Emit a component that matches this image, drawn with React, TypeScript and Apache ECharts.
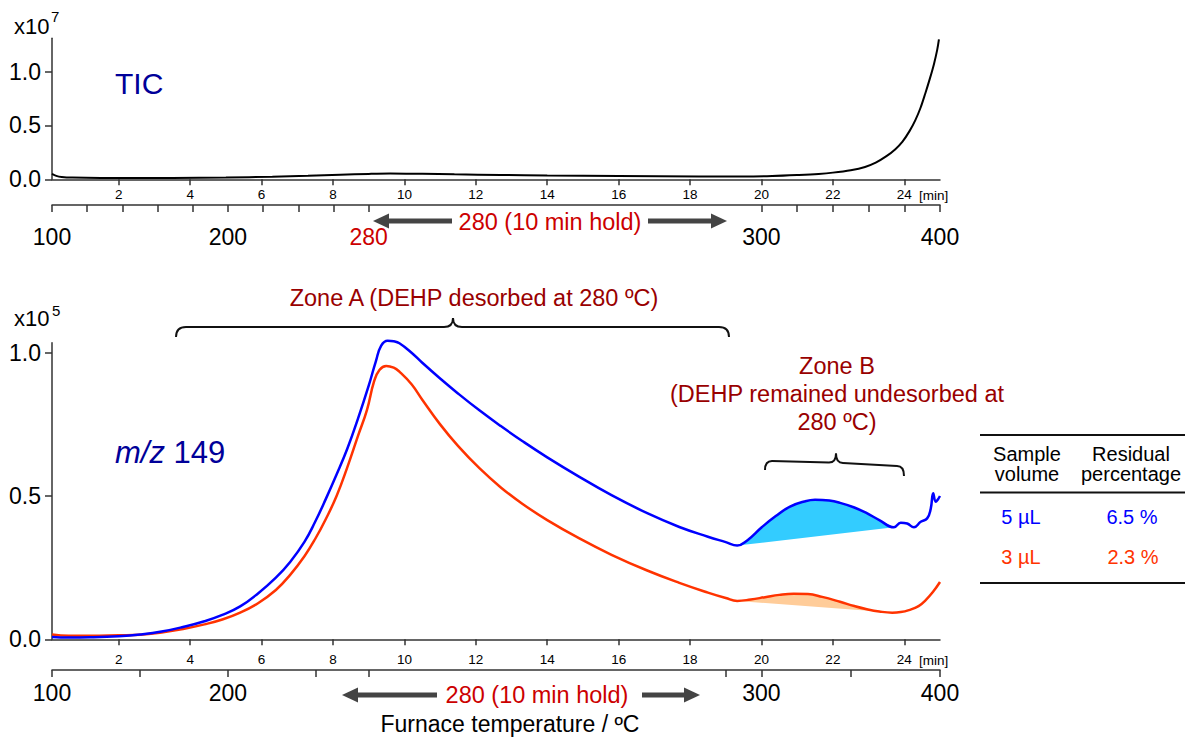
import React, { useEffect, useRef } from "react";
import * as echarts from "echarts";

const FONT = "'Liberation Sans', Arial, Helvetica, sans-serif";

// ---- time axis (minutes) ----
const T_MIN = 0.13;
const T_MAX = 25;
const minuteTicks = [2, 4, 6, 8, 10, 12, 14, 16, 18, 20, 22, 24];

// ---- furnace program: 100 -> 280 (ramp), hold 10 min, 280 -> 400 at 20 C/min ----
const RAMP1_START = 0.13;
const RAMP1_END = 9.0;
const HOLD_END = 19.0;
const heatMin = (T: number) => RAMP1_START + ((T - 100) / 180) * (RAMP1_END - RAMP1_START);
const ramp2Min = (T: number) => HOLD_END + (T - 280) / 20;

const topTempTicksRamp1 = [100, 120, 140, 160, 180, 200, 220, 240, 260, 280];
const topTempTicksRamp2 = [280, 300, 320, 340, 360, 380, 400];
const botTempTicksRamp1 = [100, 150, 200, 250, 280];
const botTempTicksRamp2 = [280, 300, 350, 400];
const topTempLabelsRamp1 = ["100", "200", "280"];
const topTempLabelsRamp2 = ["300", "400"];
const botTempLabelsRamp1 = ["100", "200"];
const botTempLabelsRamp2 = ["300", "400"];

// ---- TIC (x10^7) ----
const ticT = [0.13, 0.25, 0.4, 0.7, 1.5, 3.5, 5.0, 6.3, 7.3, 8.2, 9.0, 9.6, 10.5, 11.4, 12.7, 14.0, 16.0, 18.25, 19.5, 20.3, 21.05, 21.6, 22.0, 22.5, 22.9, 23.2, 23.5, 23.75, 23.95, 24.15, 24.31, 24.45, 24.59, 24.72, 24.83, 24.92, 24.97];
const ticV = [0.05, 0.032, 0.022, 0.016, 0.013, 0.013, 0.017, 0.024, 0.032, 0.043, 0.05, 0.053, 0.051, 0.046, 0.04, 0.035, 0.03, 0.026, 0.026, 0.03, 0.04, 0.05, 0.062, 0.085, 0.115, 0.155, 0.215, 0.28, 0.35, 0.45, 0.55, 0.66, 0.8, 0.94, 1.07, 1.2, 1.3];

// ---- m/z 149 (x10^5), 5 uL ----
const blueT = [0.13, 0.6, 1.2, 2.0, 2.6, 3.2, 3.8, 4.4, 4.9, 5.4, 5.9, 6.4, 6.8, 7.2, 7.5, 7.8, 8.1, 8.4, 8.7, 9.0, 9.2, 9.35, 9.53, 9.7, 9.86, 10.2, 10.5, 11.0, 11.5, 12.1, 12.7, 13.3, 14.0, 14.9, 15.8, 16.8, 17.7, 18.5, 19.0, 19.32, 19.6, 20.0, 20.4, 20.8, 21.2, 21.5, 21.9, 22.2, 22.6, 22.95, 23.3, 23.71, 23.9, 24.08, 24.27, 24.46, 24.64, 24.74, 24.81, 24.88, 24.95, 25.0];
const blueV = [0.008, 0.006, 0.007, 0.011, 0.017, 0.027, 0.043, 0.063, 0.085, 0.115, 0.16, 0.215, 0.27, 0.34, 0.41, 0.49, 0.575, 0.665, 0.77, 0.885, 0.97, 1.025, 1.042, 1.04, 1.033, 1.0, 0.965, 0.91, 0.858, 0.799, 0.744, 0.692, 0.635, 0.567, 0.503, 0.44, 0.392, 0.358, 0.339, 0.327, 0.345, 0.39, 0.43, 0.463, 0.481, 0.487, 0.484, 0.476, 0.46, 0.44, 0.416, 0.391, 0.407, 0.404, 0.391, 0.41, 0.422, 0.455, 0.51, 0.48, 0.49, 0.5];

// ---- m/z 149 (x10^5), 3 uL ----
const orangeT = [0.13, 0.6, 1.2, 2.0, 2.6, 3.2, 3.8, 4.4, 4.9, 5.4, 5.9, 6.4, 6.8, 7.2, 7.5, 7.8, 8.1, 8.4, 8.7, 8.95, 9.15, 9.3, 9.49, 9.7, 9.86, 10.2, 10.5, 11.0, 11.5, 12.1, 12.7, 13.3, 14.0, 14.9, 15.8, 16.8, 17.7, 18.5, 19.0, 19.32, 19.7, 20.1, 20.5, 20.9, 21.3, 21.7, 22.2, 22.6, 22.95, 23.3, 23.66, 23.9, 24.13, 24.4, 24.6, 24.8, 25.0];
const orangeV = [0.017, 0.012, 0.012, 0.014, 0.016, 0.024, 0.036, 0.052, 0.069, 0.093, 0.126, 0.172, 0.225, 0.29, 0.35, 0.42, 0.5, 0.6, 0.71, 0.8, 0.9, 0.94, 0.954, 0.948, 0.934, 0.89, 0.836, 0.75, 0.675, 0.597, 0.53, 0.473, 0.416, 0.352, 0.295, 0.24, 0.197, 0.163, 0.144, 0.134, 0.139, 0.147, 0.155, 0.159, 0.158, 0.148, 0.131, 0.116, 0.105, 0.097, 0.093, 0.095, 0.102, 0.116, 0.137, 0.165, 0.2];

// ---- Zone B residual areas (start / end minutes) ----
const blueFillRange = [19.32, 23.71];
const orangeFillRange = [19.32, 23.55];

// ---- table ----
const tableHeader = [["Sample", "volume"], ["Residual", "percentage"]];
const tableVolumes = ["5 µL", "3 µL"];
const tablePercents = ["6.5 %", "2.3 %"];

const BLUE = "#0000ff";
const ORANGE = "#ff3300";
const DARKRED = "#990000";
const RED = "#cc0000";
const NAVY = "#000099";

const zip = (t: number[], v: number[]) => t.map((x, i) => [x, v[i]]);

function interp(t: number[], v: number[], x: number) {
  for (let i = 0; i < t.length - 1; i++) {
    if (x >= t[i] && x <= t[i + 1]) {
      const f = (x - t[i]) / (t[i + 1] - t[i]);
      return v[i] + f * (v[i + 1] - v[i]);
    }
  }
  return v[v.length - 1];
}

function fillPolygon(t: number[], v: number[], a: number, b: number) {
  const pts: number[][] = [[a, interp(t, v, a)]];
  t.forEach((x, i) => {
    if (x > a && x < b) pts.push([x, v[i]]);
  });
  pts.push([b, interp(t, v, b)]);
  return pts;
}

function arrow(tailX: number, tipX: number, y: number) {
  const dir = Math.sign(tipX - tailX);
  const baseX = tipX - dir * 16;
  return [
    { type: "rect", shape: { x: Math.min(tailX, baseX), y: y - 2.5, width: Math.abs(baseX - tailX), height: 5 }, style: { fill: "#444" } },
    { type: "polygon", shape: { points: [[tipX, y], [baseX, y - 7.5], [baseX, y + 7.5]] }, style: { fill: "#444" } },
  ];
}

function brace(pts: { l: number[]; lc: number[]; ml: number[]; tip: number[]; mr: number[]; rc: number[]; r: number[] }) {
  const st = { stroke: "#111", lineWidth: 2, fill: null as any };
  const { l, lc, ml, tip, mr, rc, r } = pts;
  return [
    { type: "bezierCurve", shape: { x1: l[0], y1: l[1], cpx1: l[0], cpy1: lc[1], x2: lc[0], y2: lc[1] }, style: st },
    { type: "line", shape: { x1: lc[0], y1: lc[1], x2: ml[0], y2: ml[1] }, style: st },
    { type: "bezierCurve", shape: { x1: ml[0], y1: ml[1], cpx1: tip[0], cpy1: ml[1], x2: tip[0], y2: tip[1] }, style: st },
    { type: "bezierCurve", shape: { x1: tip[0], y1: tip[1], cpx1: tip[0], cpy1: mr[1], x2: mr[0], y2: mr[1] }, style: st },
    { type: "line", shape: { x1: mr[0], y1: mr[1], x2: rc[0], y2: rc[1] }, style: st },
    { type: "bezierCurve", shape: { x1: rc[0], y1: rc[1], cpx1: r[0], cpy1: rc[1], x2: r[0], y2: r[1] }, style: st },
  ];
}

function txt(text: string, x: number, y: number, fontSize: number, fill: string, align = "center", extra: any = {}) {
  return { type: "text", x, y, style: { text, fontSize, fill, fontFamily: FONT, align, verticalAlign: "middle", ...extra } };
}

function tempAxis(gridIndex: number, offset: number, margin: number, tickPos: number[], labelPos: number[], labelText: string[], redIdx: number) {
  return {
    type: "value",
    gridIndex,
    min: T_MIN,
    max: T_MAX,
    position: "bottom",
    offset,
    axisLine: { show: true, onZero: false, lineStyle: { color: "#333", width: 1.5 } },
    axisTick: { show: true, customValues: tickPos, length: 7, lineStyle: { color: "#333", width: 1.5 } },
    splitLine: { show: false },
    axisLabel: {
      show: true,
      customValues: labelPos,
      margin,
      fontSize: 23,
      color: "#000",
      fontFamily: FONT,
      formatter: (val: number) => {
        let best = 0;
        labelPos.forEach((p, i) => {
          if (Math.abs(p - val) < Math.abs(labelPos[best] - val)) best = i;
        });
        return best === redIdx ? `{r|${labelText[best]}}` : labelText[best];
      },
      rich: { r: { color: RED, fontSize: 23, fontFamily: FONT } },
    },
  };
}

function timeAxis(gridIndex: number, margin: number) {
  return {
    type: "value",
    gridIndex,
    min: T_MIN,
    max: T_MAX,
    position: "bottom",
    axisLine: { show: true, onZero: false, lineStyle: { color: "#333", width: 1.5 } },
    axisTick: { show: true, customValues: minuteTicks, length: 6, lineStyle: { color: "#333", width: 1.5 } },
    splitLine: { show: false },
    axisLabel: { show: true, customValues: minuteTicks, margin, fontSize: 13.5, color: "#000", fontFamily: FONT },
  };
}

function valueAxis(gridIndex: number, max: number) {
  return {
    type: "value",
    gridIndex,
    min: 0,
    max,
    axisLine: { show: true, lineStyle: { color: "#333", width: 1.5 } },
    axisTick: { show: true, customValues: [0, 0.5, 1], length: 7, lineStyle: { color: "#333", width: 1.5 } },
    splitLine: { show: false },
    axisLabel: { show: true, customValues: [0, 0.5, 1], margin: 11, fontSize: 23, color: "#000", fontFamily: FONT, formatter: (v: number) => v.toFixed(1) },
  };
}

function fillSeries(t: number[], v: number[], range: number[], color: string) {
  return {
    type: "custom",
    xAxisIndex: 2,
    yAxisIndex: 1,
    silent: true,
    z: 1,
    clip: false,
    data: [[range[0], 0]],
    renderItem: (_p: any, api: any) => ({
      type: "polygon",
      shape: { points: fillPolygon(t, v, range[0], range[1]).map((p) => api.coord(p)) },
      style: { fill: color },
    }),
  };
}

export default function App() {
  const ref = useRef<HTMLDivElement>(null);
  useEffect(() => {
    if (!ref.current) return;
    const chart = echarts.init(ref.current, null, { renderer: "svg" });

    const topTickPos = [...topTempTicksRamp1.map(heatMin), ...topTempTicksRamp2.slice(1).map(ramp2Min)];
    const topLabelPos = [...topTempLabelsRamp1.map((s) => heatMin(+s)), ...topTempLabelsRamp2.map((s) => ramp2Min(+s))];
    const topLabelText = [...topTempLabelsRamp1, ...topTempLabelsRamp2];
    const botTickPos = [...botTempTicksRamp1.map(heatMin), ...botTempTicksRamp2.map(ramp2Min)];
    const botLabelPos = [...botTempLabelsRamp1.map((s) => heatMin(+s)), ...botTempLabelsRamp2.map((s) => ramp2Min(+s))];
    const botLabelText = [...botTempLabelsRamp1, ...botTempLabelsRamp2];

    const graphics: any[] = [
      // multipliers
      txt("x10", 14, 26, 22, "#000", "left"),
      txt("7", 51, 16, 15, "#000", "left"),
      txt("x10", 14, 318, 22, "#000", "left"),
      txt("5", 52, 310, 15, "#000", "left"),
      // panel titles
      txt("TIC", 115, 83, 30, NAVY, "left"),
      {
        type: "text",
        x: 115,
        y: 452,
        style: {
          text: "{i|m/z} 149",
          fontSize: 31,
          fill: NAVY,
          fontFamily: FONT,
          align: "left",
          verticalAlign: "middle",
          rich: { i: { fontStyle: "italic", fontSize: 31, fill: NAVY, fontFamily: FONT } },
        },
      },
      // [min]
      txt("[min]", 919, 195, 13.5, "#000", "left"),
      txt("[min]", 919, 660, 13.5, "#000", "left"),
      // hold annotations
      ...arrow(452, 373, 221),
      txt("280 (10 min hold)", 550, 222, 23.5, RED),
      ...arrow(648, 727, 221),
      ...arrow(437, 342, 695),
      txt("280 (10 min hold)", 537, 695, 23.5, RED),
      ...arrow(642, 700, 695),
      txt("Furnace temperature / ºC", 510, 724, 23, "#000"),
      // zones
      txt("Zone A (DEHP desorbed at 280 ºC)", 474, 298, 23.5, DARKRED),
      ...brace({ l: [176, 337], lc: [186, 327], ml: [444, 327], tip: [453, 318], mr: [462, 327], rc: [719, 327], r: [729, 337] }),
      txt("Zone B", 837, 366, 23.5, DARKRED),
      txt("(DEHP remained undesorbed at", 837, 394, 23.5, DARKRED),
      txt("280 ºC)", 837, 422, 23.5, DARKRED),
      ...brace({ l: [765, 470], lc: [772, 461], ml: [829, 462.5], tip: [836, 453.5], mr: [843, 463], rc: [897, 466], r: [904, 476] }),
      // table
      { type: "line", shape: { x1: 980, y1: 435, x2: 1185, y2: 435 }, style: { stroke: "#111", lineWidth: 2 } },
      { type: "line", shape: { x1: 980, y1: 492.5, x2: 1185, y2: 492.5 }, style: { stroke: "#111", lineWidth: 2 } },
      { type: "line", shape: { x1: 980, y1: 583, x2: 1185, y2: 583 }, style: { stroke: "#111", lineWidth: 2 } },
      txt(tableHeader[0][0], 1027, 454, 20, "#000"),
      txt(tableHeader[0][1], 1027, 474, 20, "#000"),
      txt(tableHeader[1][0], 1131, 454, 20, "#000"),
      txt(tableHeader[1][1], 1131, 474, 20, "#000"),
      txt(tableVolumes[0], 1021, 517, 20, BLUE),
      txt(tablePercents[0], 1132, 517, 20, BLUE),
      txt(tableVolumes[1], 1021, 557, 20, ORANGE),
      txt(tablePercents[1], 1133, 557, 20, ORANGE),
    ];

    const option: any = {
      animation: false,
      backgroundColor: "#fff",
      textStyle: { fontFamily: FONT },
      grid: [
        { left: 52, width: 888, top: 38.3, height: 141, containLabel: false },
        { left: 52, width: 888, top: 342.7, height: 296.6, containLabel: false },
      ],
      xAxis: [
        timeAxis(0, 8.5),
        tempAxis(0, 25.7, 20, topTickPos, topLabelPos, topLabelText, 2),
        timeAxis(1, 13.5),
        tempAxis(1, 30.7, 11, botTickPos, botLabelPos, botLabelText, -1),
      ],
      yAxis: [valueAxis(0, 1.31), valueAxis(1, 1.035)],
      series: [
        {
          type: "line",
          xAxisIndex: 0,
          yAxisIndex: 0,
          data: zip(ticT, ticV),
          showSymbol: false,
          smooth: 0.35,
          clip: false,
          lineStyle: { color: "#000", width: 2 },
          z: 3,
        },
        fillSeries(blueT, blueV, blueFillRange, "#33ccff"),
        fillSeries(orangeT, orangeV, orangeFillRange, "#ffcc99"),
        {
          type: "line",
          xAxisIndex: 2,
          yAxisIndex: 1,
          data: zip(orangeT, orangeV),
          showSymbol: false,
          smooth: 0.45,
          clip: false,
          lineStyle: { color: ORANGE, width: 2.5 },
          z: 3,
        },
        {
          type: "line",
          xAxisIndex: 2,
          yAxisIndex: 1,
          data: zip(blueT, blueV),
          showSymbol: false,
          smooth: 0.45,
          clip: false,
          lineStyle: { color: BLUE, width: 2.5 },
          z: 4,
        },
      ],
      graphic: graphics,
    };
    chart.setOption(option);
    return () => chart.dispose();
  }, []);
  return <div ref={ref} style={{ position: "fixed", left: 0, top: 0, width: 1185, height: 738, background: "#fff" }} />;
}
